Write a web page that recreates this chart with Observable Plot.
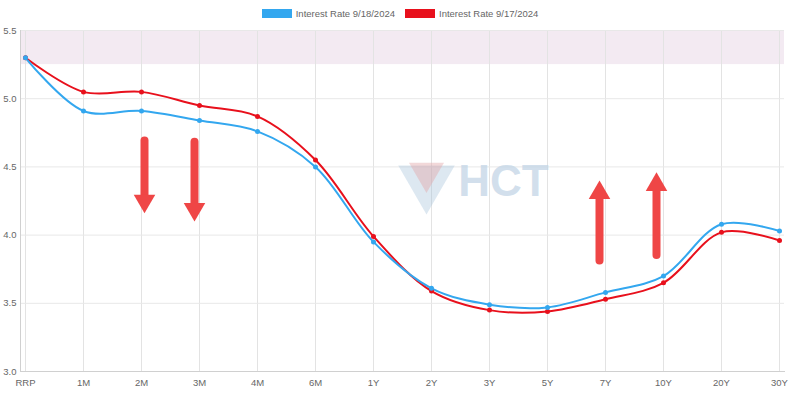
<!DOCTYPE html>
<html>
<head>
<meta charset="utf-8">
<script src="https://cdn.jsdelivr.net/npm/d3@7"></script>
<script src="https://cdn.jsdelivr.net/npm/@observablehq/plot@0.6"></script>
<style>
  html, body { margin: 0; padding: 0; background: #fff; }
  body { width: 800px; height: 399px; overflow: hidden; font-family: "Liberation Sans", Arial, sans-serif; }
  .legend { height: 24px; display: flex; justify-content: center; align-items: center; gap: 10px; font-size: 9.5px; color: #666; box-sizing: border-box; padding-top: 2px; }
  .legend .item { display: flex; align-items: center; gap: 4px; }
  .legend .sw { width: 30px; height: 9px; display: inline-block; }
</style>
</head>
<body>
<div class="legend" id="legend"></div>
<div id="chart"></div>
<script>
const categories = ["RRP","1M","2M","3M","4M","6M","1Y","2Y","3Y","5Y","7Y","10Y","20Y","30Y"];
const seriesNames = ["Interest Rate 9/18/2024", "Interest Rate 9/17/2024"];
const rate0918 = [5.30, 4.91, 4.91, 4.84, 4.76, 4.50, 3.95, 3.61, 3.49, 3.47, 3.58, 3.70, 4.08, 4.03];
const rate0917 = [5.30, 5.05, 5.05, 4.95, 4.87, 4.55, 3.99, 3.59, 3.45, 3.44, 3.53, 3.65, 4.02, 3.96];
const yTicks = [3.0, 3.5, 4.0, 4.5, 5.0, 5.5];
const bandLow = 5.25, bandHigh = 5.5;
// annotation arrows (category, tail value, tip value)
const downArrows = [{cat: "2M", tail: 4.69, tip: 4.17}, {cat: "3M", tail: 4.68, tip: 4.11}];
const upArrows = [{cat: "7Y", tail: 3.81, tip: 4.39}, {cat: "10Y", tail: 3.85, tip: 4.45}];
const watermark = {cat: "3Y", logoCat: "2Y", value: 4.39, text: "HCT"};
const colors = ["#33a7ef", "#e8101c"];

const rows = [];
categories.forEach((c, i) => rows.push({cat: c, value: rate0917[i], series: seriesNames[1]}));
categories.forEach((c, i) => rows.push({cat: c, value: rate0918[i], series: seriesNames[0]}));

const legend = document.getElementById("legend");
seriesNames.forEach((s, i) => {
  const it = document.createElement("div");
  it.className = "item";
  it.innerHTML = `<span class="sw" style="background:${colors[i]}"></span><span>${s}</span>`;
  legend.appendChild(it);
});

const arrowColor = "#ef4646";
const arrowMarks = (arr, dir, dx) => [
  Plot.ruleX(arr, dir === "down"
    ? {x: "cat", y1: "tail", y2: "tip", dx, stroke: arrowColor, strokeWidth: 8, strokeLinecap: "round", insetBottom: 12}
    : {x: "cat", y1: "tip", y2: "tail", dx, stroke: arrowColor, strokeWidth: 8, strokeLinecap: "round", insetTop: 12}),
  Plot.dot(arr, {x: "cat", y: "tip", dx, symbol: "triangle", rotate: dir === "down" ? 180 : 0, r: 8, dy: dir === "down" ? -11 : 11, fill: arrowColor})
];

const chart = Plot.plot({
  width: 800,
  height: 375,
  marginTop: 6,
  marginBottom: 28,
  marginLeft: 20,
  marginRight: 16,
  style: {fontFamily: "Liberation Sans, Arial, sans-serif", fontSize: "9.5px", color: "#666", background: "#fff"},
  x: {type: "point", domain: categories, padding: 0, label: null},
  y: {domain: [3.0, 5.5], label: null},
  color: {domain: seriesNames, range: colors},
  marks: [
    Plot.rect([{lo: bandLow, hi: bandHigh}], {y1: "lo", y2: "hi", fill: "#f3eaf2"}),
    Plot.gridX(categories, {stroke: "#e3e3e3", strokeOpacity: 1}),
    Plot.gridY(yTicks, {stroke: "#e8e8e8", strokeOpacity: 1}),
    Plot.frame({anchor: "left", stroke: "#d0d0d0"}),
    Plot.frame({anchor: "bottom", stroke: "#d0d0d0"}),
    Plot.dot([watermark], {x: "logoCat", y: "value", dx: -5, dy: 0, symbol: "triangle", rotate: 180, r: 21, fill: "#9fbcd6", fillOpacity: 0.35}),
    Plot.dot([watermark], {x: "logoCat", y: "value", dx: -5, dy: -9, symbol: "triangle", rotate: 180, r: 13, fill: "#e3a9ab", fillOpacity: 0.45}),
    Plot.text([watermark], {x: "cat", y: "value", text: "text", dx: 14, fontSize: 44, fontWeight: "bold", fill: "#c3d5e6", fillOpacity: 0.75}),
    Plot.line(rows, {x: "cat", y: "value", z: "series", stroke: "series", strokeWidth: 2, curve: "catmull-rom"}),
    Plot.dot(rows, {x: "cat", y: "value", fill: "series", r: 2.5}),
    ...arrowMarks(downArrows.slice(0, 1), "down", 3),
    ...arrowMarks(downArrows.slice(1, 2), "down", -5),
    ...arrowMarks(upArrows.slice(0, 1), "up", -6),
    ...arrowMarks(upArrows.slice(1, 2), "up", -7),
    Plot.axisX({tickSize: 0, tickPadding: 8, fill: "#666"}),
    Plot.axisY({ticks: yTicks, tickSize: 0, tickPadding: 4, tickFormat: d3.format(".1f"), fill: "#666"})
  ]
});
document.getElementById("chart").appendChild(chart);
</script>
</body>
</html>
